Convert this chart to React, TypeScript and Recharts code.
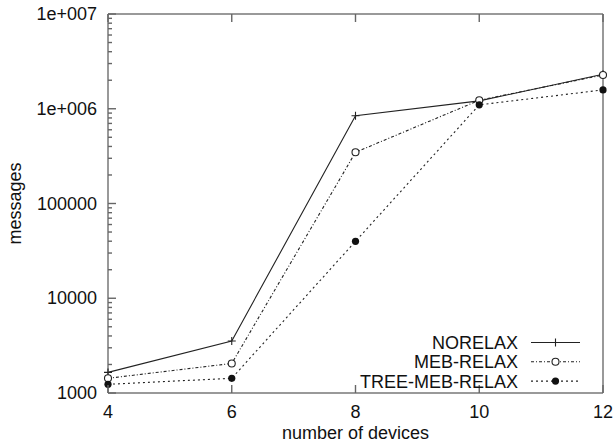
import { Legend, Line, LineChart, XAxis, YAxis } from "recharts";

const DEVICES = [4, 6, 8, 10, 12];
const NORELAX = [1650, 3540, 845000, 1210000, 2310000];
const MEB_RELAX = [1430, 2050, 347000, 1230000, 2270000];
const TREE_MEB_RELAX = [1235, 1430, 39900, 1100000, 1580000];

const Y_TICKS = [1000, 10000, 100000, 1000000, 10000000];
const Y_TICK_LABELS = ["1000", "10000", "100000", "1e+006", "1e+007"];
const Y_MINOR_TICKS = [1000, 10000, 100000, 1000000].flatMap((d) =>
  [2, 3, 4, 5, 6, 7, 8, 9].map((m) => d * m),
);
const Y_ALL_TICKS = [...Y_TICKS, ...Y_MINOR_TICKS].sort((a, b) => a - b);
const Y_DOMAIN = [1000, 10000000];

const AXIS = "#777";
const TICK = "#666";
const INK = "#222";
const FONT = 18;
const GAP_Y = 11; // label gap left of the border
const GAP_X = 12; // label gap below the border
const MAJOR = 8;
const MINOR = 4;

const data = DEVICES.map((n, i) => ({
  n,
  norelax: NORELAX[i],
  meb: MEB_RELAX[i],
  tree: TREE_MEB_RELAX[i],
}));

type Marker = "plus" | "open" | "filled";

const SERIES: { key: string; name: string; dash?: string; marker: Marker }[] = [
  { key: "norelax", name: "NORELAX", marker: "plus" },
  { key: "meb", name: "MEB-RELAX", dash: "3 2 1 2", marker: "open" },
  { key: "tree", name: "TREE-MEB-RELAX", dash: "2 3", marker: "filled" },
];

function drawMarker(marker: Marker, cx: number, cy: number, key?: string) {
  if (marker === "plus") {
    return (
      <path key={key} d={`M${cx - 4},${cy}h8M${cx},${cy - 4}v8`} stroke={INK} strokeWidth={1.1} fill="none" />
    );
  }
  if (marker === "open") {
    return <circle key={key} cx={cx} cy={cy} r={3.5} fill="#fff" stroke={INK} strokeWidth={1.1} />;
  }
  return <circle key={key} cx={cx} cy={cy} r={3.6} fill="#111" />;
}

function makeDot(marker: Marker) {
  return (props: any) => {
    const { cx, cy, index } = props;
    if (cx == null || cy == null) return <g key={index} />;
    return drawMarker(marker, cx, cy, `d${index}`);
  };
}

// gnuplot style: ticks point inward, minor ticks shorter
function LeftTick(props: any) {
  const { x, y, payload } = props;
  const ax = x + GAP_Y;
  const i = Y_TICKS.indexOf(payload.value);
  const len = i >= 0 ? MAJOR : MINOR;
  return (
    <g>
      <path d={`M${ax},${y}h${len}`} stroke={TICK} strokeWidth={1.4} fill="none" />
      {i >= 0 && (
        <text x={x} y={y} textAnchor="end" dominantBaseline="central" fontSize={FONT} fill="#111">
          {Y_TICK_LABELS[i]}
        </text>
      )}
    </g>
  );
}

function RightTick(props: any) {
  const { x, y, payload } = props;
  const len = Y_TICKS.includes(payload.value) ? MAJOR : MINOR;
  return <path d={`M${x},${y}h${-len}`} stroke={TICK} strokeWidth={1.4} fill="none" />;
}

function BottomTick(props: any) {
  const { x, y, payload } = props;
  const ay = y - GAP_X;
  return (
    <g>
      <path d={`M${x},${ay}v${-MAJOR}`} stroke={TICK} strokeWidth={1.4} fill="none" />
      <text x={x} y={y + 13} textAnchor="middle" fontSize={FONT} fill="#111">
        {payload.value}
      </text>
    </g>
  );
}

function TopTick(props: any) {
  const { x, y } = props;
  return <path d={`M${x},${y}v${MAJOR}`} stroke={TICK} strokeWidth={1.4} fill="none" />;
}

function LegendBox() {
  return (
    <svg width={230} height={64} style={{ overflow: "visible" }}>
      {SERIES.map((s, i) => {
        const y = 12.5 + i * 19.3;
        return (
          <g key={s.key}>
            <text x={138} y={y + 6.5} textAnchor="end" fontSize={FONT} fill="#111">
              {s.name}
            </text>
            <line x1={151} x2={200} y1={y} y2={y} stroke={INK} strokeWidth={1.1} strokeDasharray={s.dash} />
            {drawMarker(s.marker, 175.5, y)}
          </g>
        );
      })}
    </svg>
  );
}

const renderYLabel = (props: any) => {
  const vb = props.viewBox;
  const cx = 15;
  const cy = vb.y + vb.height / 2;
  return (
    <text x={cx} y={cy} transform={`rotate(-90, ${cx}, ${cy})`} textAnchor="middle" dominantBaseline="central" fontSize={FONT} fill="#111">
      messages
    </text>
  );
};

const renderXLabel = (props: any) => {
  const vb = props.viewBox;
  return (
    <text x={vb.x + vb.width / 2} y={439} textAnchor="middle" fontSize={FONT} fill="#111">
      number of devices
    </text>
  );
};

export default function App() {
  return (
    <div style={{ position: "absolute", left: 0, top: 0, fontFamily: "'Liberation Sans', Arial, sans-serif", background: "#fff" }}>
      <LineChart width={615} height={448} data={data} margin={{ top: 13, right: 11, bottom: 0, left: 0 }}>
        <XAxis
          xAxisId="b"
          dataKey="n"
          type="number"
          domain={[4, 12]}
          ticks={DEVICES}
          interval={0}
          height={55}
          tickLine={false}
          tickSize={0}
          tickMargin={GAP_X}
          stroke={AXIS}
          strokeWidth={1.5}
          tick={<BottomTick />}
          label={renderXLabel}
        />
        <XAxis
          xAxisId="t"
          orientation="top"
          dataKey="n"
          type="number"
          domain={[4, 12]}
          ticks={DEVICES}
          interval={0}
          height={1}
          tickLine={false}
          tickSize={0}
          tickMargin={0}
          stroke={AXIS}
          strokeWidth={1.5}
          tick={<TopTick />}
        />
        <YAxis
          yAxisId="y"
          scale="log"
          domain={Y_DOMAIN}
          ticks={Y_ALL_TICKS}
          interval={0}
          width={108}
          tickLine={false}
          tickSize={0}
          tickMargin={GAP_Y}
          stroke={AXIS}
          strokeWidth={1.5}
          tick={<LeftTick />}
          label={renderYLabel}
        />
        <YAxis
          yAxisId="yr"
          orientation="right"
          scale="log"
          domain={Y_DOMAIN}
          ticks={Y_ALL_TICKS}
          interval={0}
          width={1}
          tickLine={false}
          tickSize={0}
          tickMargin={0}
          stroke={AXIS}
          strokeWidth={1.5}
          tick={<RightTick />}
        />
        <Legend
          layout="horizontal"
          verticalAlign="middle"
          align="center"
          wrapperStyle={{ left: 380, top: 330, width: 230, height: 64 }}
          content={() => <LegendBox />}
        />
        {SERIES.map((s) => (
          <Line
            key={s.key}
            xAxisId="b"
            yAxisId="y"
            dataKey={s.key}
            name={s.name}
            type="linear"
            stroke={INK}
            strokeWidth={1.1}
            strokeDasharray={s.dash}
            dot={makeDot(s.marker)}
            activeDot={false}
            isAnimationActive={false}
          />
        ))}
      </LineChart>
    </div>
  );
}
